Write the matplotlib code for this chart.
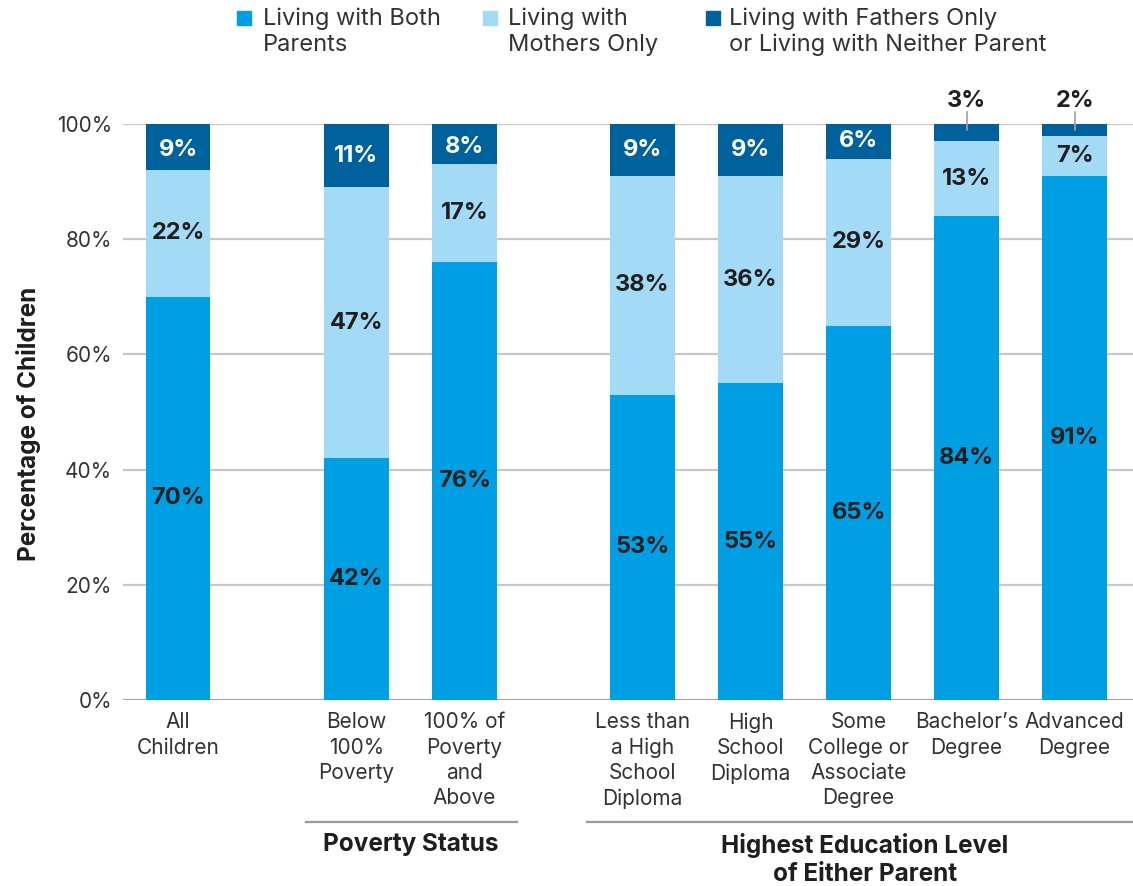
import matplotlib
matplotlib.use("Agg")
import matplotlib.pyplot as plt
import matplotlib.transforms as mtransforms
from matplotlib.patches import Rectangle
import numpy as np

plt.rcParams['font.family'] = ['Inter', 'DejaVu Sans']

# Data
categories = ["All\nChildren",
              "Below\n100%\nPoverty", "100% of\nPoverty\nand\nAbove",
              "Less than\na High\nSchool\nDiploma", "High\nSchool\nDiploma",
              "Some\nCollege or\nAssociate\nDegree", "Bachelor\u2019s\nDegree",
              "Advanced\nDegree"]
group_sizes = [1, 2, 5]
group_titles = ["", "Poverty Status", "Highest Education Level\nof Either Parent"]
both_parents = [70, 42, 76, 53, 55, 65, 84, 91]
mothers_only = [22, 47, 17, 38, 36, 29, 13, 7]
fathers_or_neither = [9, 11, 8, 9, 9, 6, 3, 2]
series_names = ["Living with Both\nParents", "Living with\nMothers Only",
                "Living with Fathers Only\nor Living with Neither Parent"]
yticks = [0, 20, 40, 60, 80, 100]

c_both = "#009FE3"
c_moth = "#A3DAF5"
c_fath = "#00629D"
txt_dark = "#1E1E1E"

# Positions: bars spaced 1 apart, extra gap between groups
gap = 0.65
pos = []
i = 0
for g, n in enumerate(group_sizes):
    for _ in range(n):
        pos.append(i + gap * g)
        i += 1
pos = np.array(pos)

W, H = 1133, 886
fig = plt.figure(figsize=(W / 100, H / 100), dpi=100)
ax = fig.add_axes([123 / W, 186 / H, 1010 / W, 576 / H])

both = np.array(both_parents, float)
moth = np.array(mothers_only, float)
fath = np.array(fathers_or_neither, float)

bw = 0.6
ax.bar(pos, both, width=bw, color=c_both, linewidth=0, zorder=3)
ax.bar(pos, moth, bottom=both, width=bw, color=c_moth, linewidth=0, zorder=3)
ax.bar(pos, fath, bottom=both + moth, width=bw, color=c_fath, linewidth=0, zorder=3)

ax.set_xlim(-0.51, 8.84)
ax.set_ylim(0, 100)

# Gridlines
for y in yticks:
    ax.axhline(y, color="#C8C8C8" if y else "#A8A8A8", lw=1.6, zorder=1)

for s in ax.spines.values():
    s.set_visible(False)

ax.set_yticks(yticks, [f"{v}%" for v in yticks])
ax.tick_params(axis="y", length=0, pad=8, labelsize=15, labelcolor="#333333")
ax.set_xticks(pos, categories)
ax.tick_params(axis="x", length=0, pad=9, labelsize=15, labelcolor="#333333")
for lab in ax.get_xticklabels():
    lab.set_linespacing(1.32)

ax.set_ylabel("Percentage of Children", fontsize=17.5, fontweight="bold",
              color=txt_dark)
ax.yaxis.set_label_coords(-82 / 1010, 0.48)

# Segment value labels
lab_kw = dict(ha="center", va="center", fontsize=17, fontweight="bold")
for x, b, m, f in zip(pos, both, moth, fath):
    ax.text(x, b / 2, f"{int(b)}%", color=txt_dark, zorder=4, **lab_kw)
    ax.text(x, b + m / 2, f"{int(m)}%", color=txt_dark, zorder=4, **lab_kw)
    if f >= 5:
        ax.text(x, min(b + m + f / 2, 100 - f / 2), f"{int(f)}%", color="white",
                zorder=4, **lab_kw)
    else:
        ax.text(x, 104.0, f"{int(f)}%", color=txt_dark, clip_on=False, **lab_kw)
        ax.plot([x, x], [102.0, 98.9], color="#A0A0A0", lw=1.2, zorder=5,
                clip_on=False)

# Group brackets and titles
trans = mtransforms.blended_transform_factory(ax.transData, ax.transAxes)
start = 0
line_y = -122 / 576
for g, n in enumerate(group_sizes):
    members = pos[start:start + n]
    start += n
    if not group_titles[g]:
        continue
    x0 = members[0] - 0.47 - (0.0 if g == 1 else 0.04)
    x1 = members[-1] + 0.49 if g == 1 else 8.84
    ax.plot([x0, x1], [line_y, line_y], color="#9A9A9A", lw=1.6,
            transform=trans, clip_on=False)
    ax.text((members[0] + members[-1]) / 2 + (0.0 if g == 1 else 0.06),
            line_y - 11 / 576, group_titles[g], transform=trans,
            ha="center", va="top", fontsize=17.5, fontweight="bold",
            color=txt_dark, linespacing=1.3)

# Legend
leg_items = [(237, 263, c_both, series_names[0]),
             (483, 508, c_moth, series_names[1]),
             (706, 729, c_fath, series_names[2])]
for sq_x, tx, col, name in leg_items:
    fig.patches.append(Rectangle((sq_x / W, 1 - 25 / H), 14 / W, 14 / H,
                                 transform=fig.transFigure, color=col))
    fig.text(tx / W, 1 - 7 / H, name, ha="left", va="top", fontsize=17,
             color="#333333", linespacing=1.25)

fig.savefig("out.png", dpi=100)
